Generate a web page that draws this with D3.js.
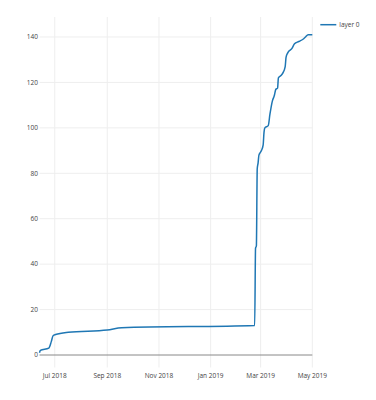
<!DOCTYPE html>
<html>
<head>
<meta charset="utf-8">
<script src="https://cdn.jsdelivr.net/npm/d3@7"></script>
<style>
    body { margin: 0; background: #fff; }
    text { font-family: "Open Sans", sans-serif; fill: #444; }
</style>
</head>
<body>
<div id="chart"></div>
<script>

// cumulative count
let dates = ["2018-06-13", "2018-06-14", "2018-06-24", "2018-06-27", "2018-06-29", "2018-07-02",
    "2018-07-17", "2018-09-01", "2018-09-18", "2019-02-22", "2019-02-23", "2019-02-24",
    "2019-02-25", "2019-02-26", "2019-02-27", "2019-03-02", "2019-03-04", "2019-03-05",
    "2019-03-06", "2019-03-10", "2019-03-12", "2019-03-15", "2019-03-17", "2019-03-19",
    "2019-03-21", "2019-03-22", "2019-03-25", "2019-03-27", "2019-03-30", "2019-03-31",
    "2019-04-02", "2019-04-07", "2019-04-10", "2019-04-15", "2019-04-20", "2019-04-23",
    "2019-04-26", "2019-05-01"];
let counts = [1, 2, 3, 6, 8.5, 9,
    10, 11, 12, 13, 47, 48,
    82, 84.5, 88, 90, 92.5, 98,
    100, 101, 106, 112, 114, 117,
    117.5, 122, 123, 124, 127, 131,
    133, 135, 137, 138, 139, 140,
    141, 141];

let yTicks = [0, 20, 40, 60, 80, 100, 120, 140];
let xTickDates = ["2018-07-01", "2018-09-01", "2018-11-01", "2019-01-01", "2019-03-01", "2019-05-01"];
let seriesName = "layer 0";

let dateParser = d3.timeParse("%Y-%m-%d");
let dateFormatter = d3.timeFormat("%b %Y");

let data = dates.map(function(d, i) {
    return { time: dateParser(d), value: counts[i] };
});

let margin = { top: 17, right: 63.7, bottom: 32.5, left: 39.5 };
let width = 376 - margin.left - margin.right,
    height = 400 - margin.top - margin.bottom;

let svg = d3.select("#chart").append("svg")
    .attr("width", 376)
    .attr("height", 400)
    .append("g")
    .attr("transform", "translate(" + margin.left + "," + margin.top + ")");

let x = d3.scaleTime()
    .domain(d3.extent(data, d => d.time))
    .range([0, width]);

// plotly-like autorange with some padding
let y = d3.scaleLinear()
    .domain([-5.5, 148.8])
    .range([height, 0]);

// grid
svg.append("g")
    .selectAll("line.vgrid")
    .data(xTickDates.map(dateParser))
    .enter().append("line")
    .attr("class", "vgrid")
    .attr("x1", d => x(d)).attr("x2", d => x(d))
    .attr("y1", 0).attr("y2", height)
    .attr("stroke", "#eee")
    .attr("stroke-width", 1);

svg.append("g")
    .selectAll("line.hgrid")
    .data(yTicks.filter(d => d !== 0))
    .enter().append("line")
    .attr("class", "hgrid")
    .attr("x1", 0).attr("x2", width)
    .attr("y1", d => y(d)).attr("y2", d => y(d))
    .attr("stroke", "#eee")
    .attr("stroke-width", 1);

// zero line
svg.append("line")
    .attr("x1", 0).attr("x2", width)
    .attr("y1", y(0)).attr("y2", y(0))
    .attr("stroke", "#888")
    .attr("stroke-width", 1);

// tick labels
svg.append("g")
    .selectAll("text")
    .data(yTicks)
    .enter().append("text")
    .attr("x", -1.5)
    .attr("y", d => y(d))
    .attr("dy", "0.35em")
    .attr("text-anchor", "end")
    .style("font-size", "6.5px")
    .text(d => d);

svg.append("g")
    .selectAll("text")
    .data(xTickDates.map(dateParser))
    .enter().append("text")
    .attr("x", d => x(d))
    .attr("y", height + 8.5)
    .attr("dy", "0.35em")
    .attr("text-anchor", "middle")
    .style("font-size", "6.5px")
    .text(d => dateFormatter(d));

// the line
let line = d3.line()
    .curve(d3.curveMonotoneX)
    .x(d => x(d.time))
    .y(d => y(d.value));

svg.append("path")
    .datum(data)
    .attr("d", line)
    .attr("fill", "none")
    .attr("stroke", "#1f77b4")
    .attr("stroke-width", 1.5);

// legend
let legend = svg.append("g")
    .attr("transform", "translate(" + (width + 8) + "," + 7.7 + ")");

legend.append("line")
    .attr("x1", 0).attr("x2", 16)
    .attr("y1", 0).attr("y2", 0)
    .attr("stroke", "#1f77b4")
    .attr("stroke-width", 1.5);

legend.append("text")
    .attr("x", 19)
    .attr("y", 0)
    .attr("dy", "0.35em")
    .style("font-size", "6.5px")
    .text(seriesName);

</script>
</body>
</html>
